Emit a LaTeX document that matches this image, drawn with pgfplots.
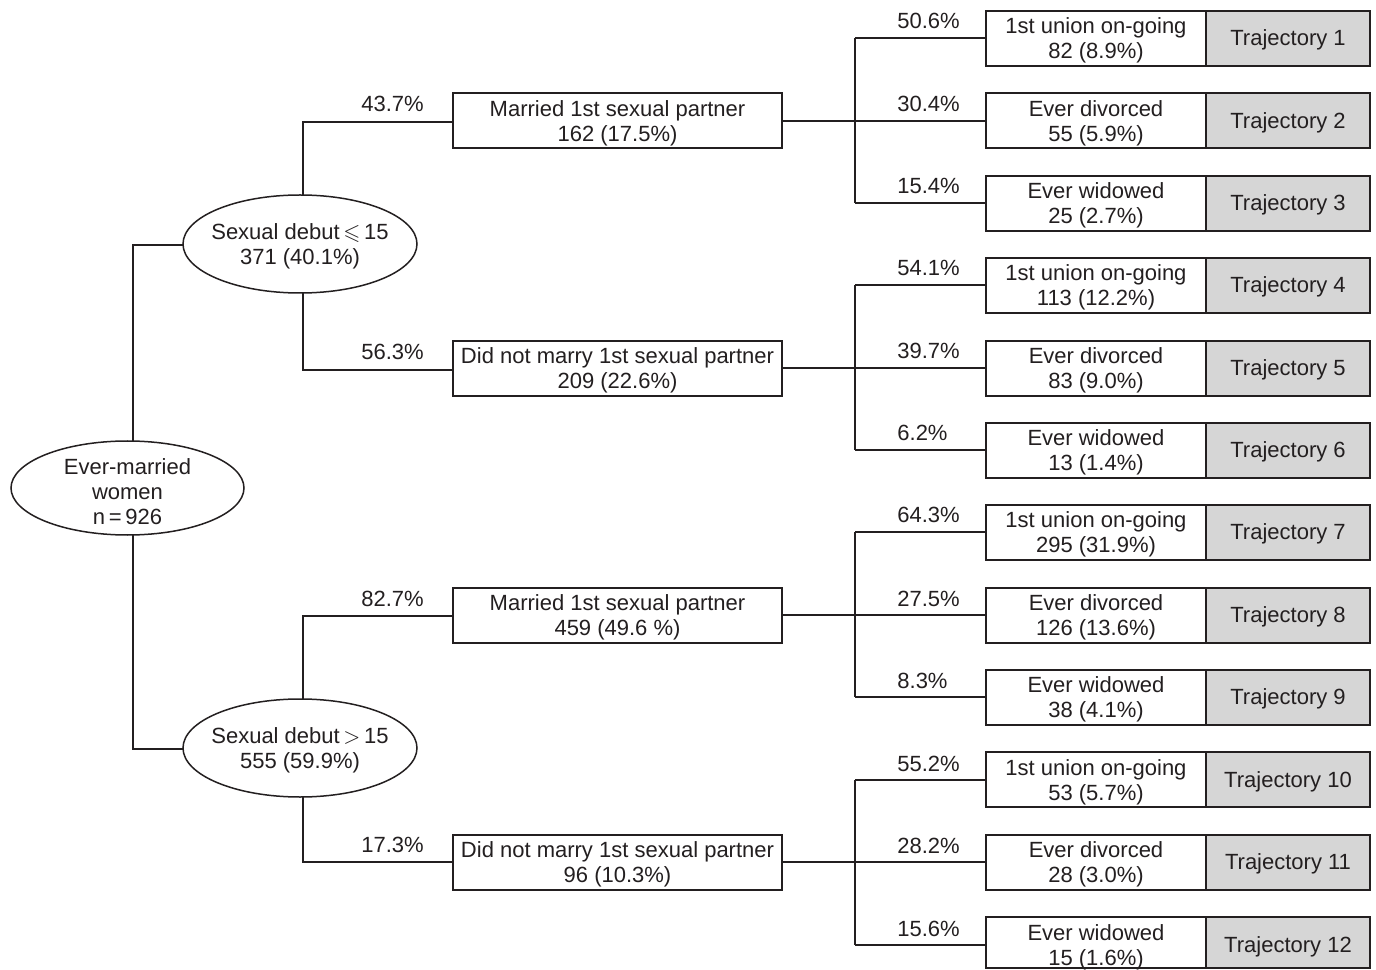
\documentclass[border=0pt]{standalone}
\usepackage{amssymb}
\usepackage{fontspec}
\setmainfont{Liberation Sans}
\usepackage{pgfplots}
\pgfplotsset{compat=1.18}
\usetikzlibrary{shapes.geometric}
\definecolor{ink}{HTML}{231F20}
\definecolor{trajgray}{HTML}{D6D6D6}
\tikzset{
  link/.style={draw=ink, line width=0.75pt},
  txt/.style={text=ink, font=\fontsize{11}{12.5}\selectfont, inner sep=0pt},
  ctr/.style={txt, align=center, yshift=-1pt},
  oval/.style={ellipse, draw=ink, line width=0.75pt, fill=white, inner sep=0pt},
}
% leaf: #1 top, #2 mid, #3 bottom, #4 pct, #5 status, #6 count, #7 trajectory
\newcommand\leaf[7]{%
  \addplot[link] coordinates {(855,#2) (986,#2)};
  \addplot[draw=ink, line width=0.75pt, fill=white] coordinates {(986,#1) (1206,#1) (1206,#3) (986,#3)} -- cycle;
  \addplot[draw=ink, line width=0.75pt, fill=trajgray] coordinates {(1206,#1) (1370,#1) (1370,#3) (1206,#3)} -- cycle;
  \node[txt, anchor=base west, yshift=4.5pt] at (axis cs:897,#2) {#4\%};
  \node[ctr] at (axis cs:1096,#2) {#5\\#6};
  \node[ctr] at (axis cs:1288,#2) {Trajectory #7};
}
% middle box: #1 top, #2 mid, #3 bottom, #4 text, #5 count, #6 top leaf mid, #7 bottom leaf mid
\newcommand\midbox[7]{%
  \addplot[link] coordinates {(782,#2) (855,#2)};
  \addplot[link] coordinates {(855,#6) (855,#7)};
  \addplot[draw=ink, line width=0.75pt, fill=white] coordinates {(453,#1) (782,#1) (782,#3) (453,#3)} -- cycle;
  \node[ctr] at (axis cs:617.5,#2) {#4\\#5};
}
\begin{document}
\begin{tikzpicture}
\begin{axis}[
  width=688pt, height=484pt, scale only axis,
  xmin=0, xmax=1376, ymin=0, ymax=968, y dir=reverse,
  hide axis, clip=false,
]
\addplot[draw=none, forget plot] coordinates {(0,0) (1376,968)};
% root and level 1 links
\addplot[link] coordinates {(133,445) (133,245) (183,245)};
\addplot[link] coordinates {(133,535) (133,749) (183,749)};
\addplot[link] coordinates {(303,195) (303,122) (453,122)};
\addplot[link] coordinates {(303,293) (303,370) (453,370)};
\addplot[link] coordinates {(303,699) (303,616) (453,616)};
\addplot[link] coordinates {(303,797) (303,862) (453,862)};
\node[txt, anchor=base west, yshift=5pt] at (axis cs:361,122) {43.7\%};
\node[txt, anchor=base west, yshift=5pt] at (axis cs:361,370) {56.3\%};
\node[txt, anchor=base west, yshift=5pt] at (axis cs:361,616) {82.7\%};
\node[txt, anchor=base west, yshift=5pt] at (axis cs:361,862) {17.3\%};
% ellipses
\node[oval, minimum width=116.5pt, minimum height=47pt] at (axis cs:127.5,488) {};
\node[ctr] at (axis cs:127.5,490) {Ever-married\\women\\n\,=\,926};
\node[oval, minimum width=117pt, minimum height=49pt] at (axis cs:300,244) {};
\node[ctr] at (axis cs:300,244) {Sexual debut\,$\leqslant$\,15\\371 (40.1\%)};
\node[oval, minimum width=117pt, minimum height=49pt] at (axis cs:300,748) {};
\node[ctr] at (axis cs:300,748) {Sexual debut\,$>$\,15\\555 (59.9\%)};
% level 2
\midbox{93}{121}{148}{Married 1st sexual partner}{162 (17.5\%)}{38}{203}
\midbox{341}{368}{396}{Did not marry 1st sexual partner}{209 (22.6\%)}{285}{450}
\midbox{588}{615}{643}{Married 1st sexual partner}{459 (49.6 \%)}{532}{697}
\midbox{835}{862}{890}{Did not marry 1st sexual partner}{96 (10.3\%)}{780}{945}
% leaves
\leaf{11}{38}{66}{50.6}{1st union on-going}{82 (8.9\%)}{1}
\leaf{93}{121}{148}{30.4}{Ever divorced}{55 (5.9\%)}{2}
\leaf{176}{203}{231}{15.4}{Ever widowed}{25 (2.7\%)}{3}
\leaf{258}{285}{313}{54.1}{1st union on-going}{113 (12.2\%)}{4}
\leaf{341}{368}{396}{39.7}{Ever divorced}{83 (9.0\%)}{5}
\leaf{423}{450}{478}{6.2}{Ever widowed}{13 (1.4\%)}{6}
\leaf{505}{532}{560}{64.3}{1st union on-going}{295 (31.9\%)}{7}
\leaf{588}{615}{643}{27.5}{Ever divorced}{126 (13.6\%)}{8}
\leaf{670}{697}{725}{8.3}{Ever widowed}{38 (4.1\%)}{9}
\leaf{752}{780}{807}{55.2}{1st union on-going}{53 (5.7\%)}{10}
\leaf{835}{862}{890}{28.2}{Ever divorced}{28 (3.0\%)}{11}
\leaf{917}{945}{968}{15.6}{Ever widowed}{15 (1.6\%)}{12}
\end{axis}
\end{tikzpicture}
\end{document}
